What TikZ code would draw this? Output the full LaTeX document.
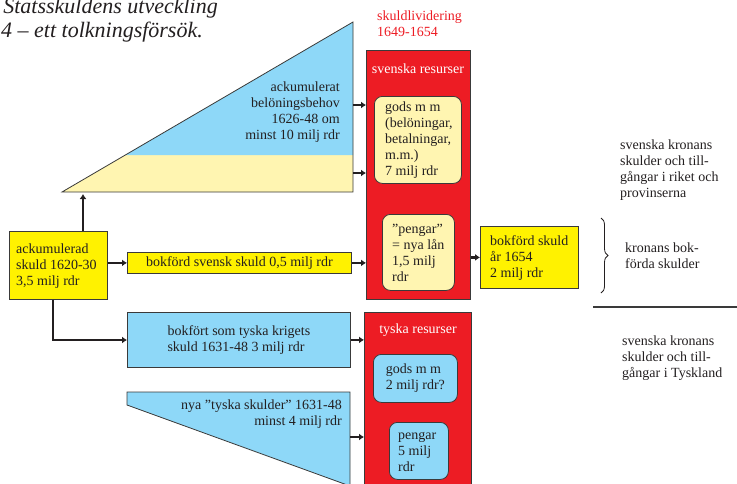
\documentclass[tikz,border=0pt]{standalone}
\usepackage{fontspec}
\setmainfont{Liberation Serif}
\usetikzlibrary{arrows.meta,decorations.pathreplacing}
\definecolor{dred}{HTML}{ED1C24}
\definecolor{lblue}{HTML}{8ED8F8}
\definecolor{pyellow}{HTML}{FFF5B1}
\definecolor{byellow}{HTML}{FFF200}
\definecolor{ink}{HTML}{231F20}
\definecolor{edge}{HTML}{3A3A3A}
\newcommand\fsz{\fontsize{14}{16}\selectfont}
\begin{document}
\begin{tikzpicture}[x=1pt,y=-1pt,
  txt/.style={font=\fsz, text=ink, inner sep=0pt},
  boxr/.style={draw=edge, line width=0.8pt, inner sep=0pt, anchor=north west},
  rbox/.style={boxr, rounded corners=8pt},
  arr/.style={-{Latex[length=5pt,width=7pt]}, line width=2.4pt, draw=ink},
]
\useasboundingbox (0,0) rectangle (737,483);
\clip (0,0) rectangle (737,483);

% title
\node[font=\fontsize{22}{26}\selectfont\itshape, text=ink, inner sep=0pt, anchor=base east] (title1) at (218,13) {Statsskuldens utveckling};
\node[font=\fontsize{22}{26}\selectfont\itshape, text=ink, inner sep=0pt, anchor=base east] (title2) at (203,37) {4 – ett tolkningsförsök.};

% upper triangle
\fill[pyellow] (62,192) -- (353,22) -- (353,192) -- cycle;
\fill[lblue] (125.3,155) -- (353,22) -- (353,155) -- cycle;
\draw[edge, line width=0.8pt] (62,192) -- (353,22) -- (353,192) -- cycle;
\node[txt, anchor=east, align=right] (beh) at (340,112) {ackumulerat\\belöningsbehov\\1626-48 om\\minst 10 milj rdr};
\coordinate (ta) at (353,105);
\coordinate (tb) at (353,173);
\coordinate (tbot) at (83,194);

% lower trapezoid
\fill[lblue] (127,392) -- (350,392) -- (350,486) -- (127,405) -- cycle;
\draw[edge, line width=0.8pt] (127,392) -- (350,392) -- (350,486) -- (127,405) -- cycle;
\node[txt, anchor=east, align=right] (nya) at (342,414) {nya ”tyska skulder” 1631-48\\minst 4 milj rdr};
\coordinate (tr) at (350,437);

% red text
\node[txt, text=dred, anchor=west, align=left] (skl) at (377,24) {skuldlividering\\1649-1654};

% boxes
\node[boxr, fill=byellow, minimum width=98pt, minimum height=68pt] (acc) at (9,231) {};
\node[txt, anchor=west, align=left] (acct) at (16,266) {ackumulerad\\skuld 1620-30\\3,5 milj rdr};

\node[boxr, fill=byellow, minimum width=224pt, minimum height=21pt] (bss) at (127,252) {};
\node[txt] (bsst) at (bss.center) {bokförd svensk skuld 0,5 milj rdr};

\node[boxr, fill=lblue, minimum width=223pt, minimum height=55pt] (bst) at (127,312) {};
\node[txt, align=left] (bstt) at (bst.center) {bokfört som tyska krigets\\skuld 1631-48 3 milj rdr};

\node[boxr, fill=dred, minimum width=104pt, minimum height=249pt] (red1) at (366,50) {};
\node[txt, text=white] (svr) at (418,69) {svenska resurser};
\node[rbox, fill=pyellow, minimum width=87pt, minimum height=87pt] (gods1) at (374,96) {};
\node[txt, anchor=west, align=left] (gods1t) at (385,140) {gods m m\\(belöningar,\\betalningar,\\m.m.)\\7 milj rdr};
\node[rbox, fill=pyellow, minimum width=72pt, minimum height=76pt] (peng1) at (382,214) {};
\node[txt, anchor=west, align=left] (peng1t) at (392,253) {”pengar”\\= nya lån\\1,5 milj\\rdr};

\node[boxr, fill=byellow, minimum width=98pt, minimum height=62pt] (bs54) at (480,226) {};
\node[txt, anchor=west, align=left] (bs54t) at (490,258) {bokförd skuld\\år 1654\\2 milj rdr};

\node[boxr, fill=dred, minimum width=107pt, minimum height=180pt] (red2) at (364,312) {};
\node[txt, text=white] (tyr) at (418,330) {tyska resurser};
\node[rbox, fill=lblue, minimum width=84pt, minimum height=48pt] (gods2) at (373,354) {};
\node[txt, align=left] (gods2t) at (gods2.center) {gods m m\\2 milj rdr?};
\node[rbox, fill=lblue, minimum width=59pt, minimum height=57pt] (peng2) at (389,422) {};
\node[txt, anchor=west, align=left] (peng2t) at (398,452) {pengar\\5 milj\\rdr};

% right side
\node[txt, anchor=west, align=left] (rik) at (620,170) {svenska kronans\\skulder och till-\\gångar i riket och\\provinserna};
\node[txt, anchor=west, align=left] (bok) at (625,256) {kronans bok-\\förda skulder};
\node[txt, anchor=west, align=left] (tys) at (622,358) {svenska kronans\\skulder och till-\\gångar i Tyskland};
\coordinate (bra) at (601,218);
\coordinate (brb) at (601,293);
\draw[ink, line width=0.8pt, decorate, decoration={brace, amplitude=7pt}] (bra) -- (brb);
\coordinate (la) at (593,307);
\coordinate (lb) at (737,307);
\draw[edge, line width=1.2pt] (la) -- (lb);

% connectors
\draw[arr] (ta) -- (ta -| red1.west);
\draw[arr] (tb) -- (tb -| red1.west);
\draw[arr] (acc.north -| tbot) -- (tbot);
\draw[arr] (acc.east |- bss.west) -- (bss.west);
\draw[arr] (bss.east) -- (bss.east -| red1.west);
\draw[arr] (bs54.west -| red1.east) -- (bs54.west);
\coordinate (c53) at (53,340);
\draw[arr] (acc.south -| c53) -- (c53) -- (c53 -| bst.west);
\draw[arr] (bst.east) -- (bst.east -| red2.west);
\draw[arr] (tr) -- (tr -| red2.west);
\end{tikzpicture}
\end{document}
